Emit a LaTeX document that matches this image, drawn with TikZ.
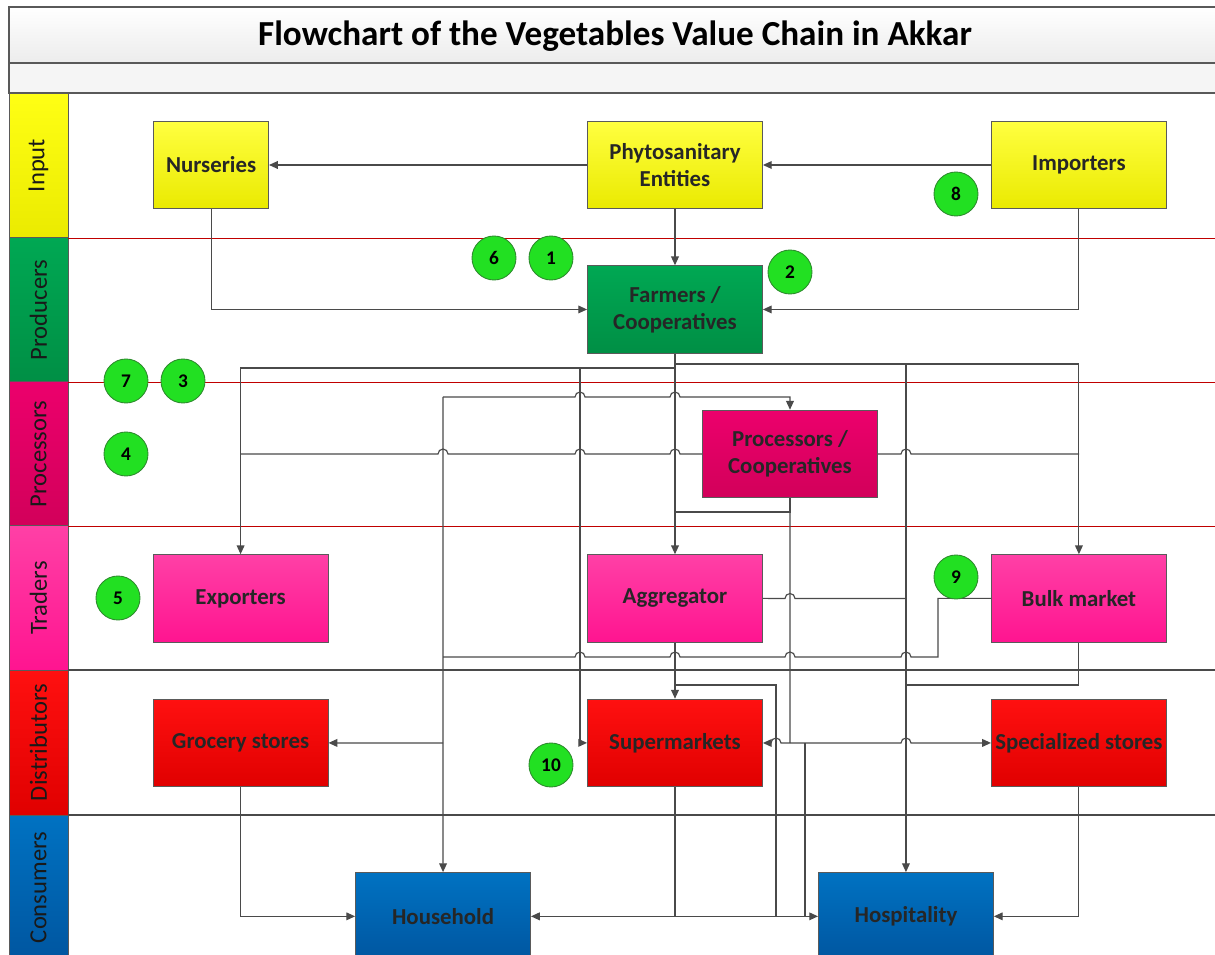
\documentclass[tikz,border=0pt]{standalone}
\usepackage{fontspec}
\setmainfont{Carlito}
\usetikzlibrary{arrows.meta,positioning}

\definecolor{linegray}{HTML}{4A4A4A}
\definecolor{boxedge}{HTML}{5A5A5A}
\definecolor{laneline}{HTML}{C00000}
\definecolor{inputtop}{HTML}{FFFF40}
\definecolor{inputbot}{HTML}{EAEA00}
\definecolor{prodtop}{HTML}{00A853}
\definecolor{prodbot}{HTML}{008F45}
\definecolor{proctop}{HTML}{EC006C}
\definecolor{procbot}{HTML}{D2005A}
\definecolor{tradetop}{HTML}{FF40A6}
\definecolor{tradebot}{HTML}{FF1490}
\definecolor{disttop}{HTML}{FF1010}
\definecolor{distbot}{HTML}{E00000}
\definecolor{constop}{HTML}{0072C2}
\definecolor{consbot}{HTML}{0056A0}
\definecolor{badgefill}{HTML}{22E022}
\definecolor{badgeedge}{HTML}{2E8B2E}

\tikzstyle{flowbox} = [rectangle, minimum width=3.5cm, minimum height=1.75cm, inner xsep=1pt, text centered, align=center, draw=boxedge, line width=0.5pt, font=\bfseries\fontsize{13}{15.5}\selectfont, text=black!85]
\tikzstyle{inputbox} = [flowbox, top color=inputtop, bottom color=inputbot]
\tikzstyle{prodbox} = [flowbox, top color=prodtop, bottom color=prodbot]
\tikzstyle{procbox} = [flowbox, top color=proctop, bottom color=procbot]
\tikzstyle{tradebox} = [flowbox, top color=tradetop, bottom color=tradebot]
\tikzstyle{distbox} = [flowbox, top color=disttop, bottom color=distbot]
\tikzstyle{consbox} = [flowbox, top color=constop, bottom color=consbot]
\tikzstyle{badge} = [circle, minimum size=0.88cm, inner sep=0pt, draw=badgeedge, line width=0.5pt, fill=badgefill, font=\bfseries\fontsize{11}{13}\selectfont]
\tikzstyle{lane} = [rectangle, rotate=90, minimum width=2.9cm, minimum height=1.18cm, draw=boxedge, line width=0.4pt, font=\fontsize{14}{16}\selectfont, text=black!90]
\tikzstyle{link} = [draw=linegray, line width=0.65pt]
\tikzstyle{arrow} = [link, ->, >={Triangle[length=5pt,width=4.4pt]}]
\tikzstyle{twoway} = [arrow, <->]
\tikzstyle{sepred} = [draw=laneline, line width=0.5pt]
\tikzstyle{sepdark} = [draw=linegray, line width=0.7pt]

\newcommand{\hopright}[2]{-- (#1-5,#2) arc[start angle=180,end angle=0,radius=0.1cm]}
\newcommand{\hopleft}[2]{-- (#1+5,#2) arc[start angle=0,end angle=180,radius=0.1cm]}

\begin{document}
\begin{tikzpicture}[node distance=2.89cm, x=0.02cm, y=-0.02cm]
		\useasboundingbox (0,0) rectangle (1215,955);
		\clip (0,0) rectangle (1215,955);
		\fill [white] (0,0) rectangle (1215,955);

		\draw [draw=gray!70!black, line width=0.7pt, top color=white, bottom color=gray!15] (9,7) rectangle (1240,63);
		\draw [draw=gray!70!black, line width=0.7pt, fill=gray!8] (9,63) rectangle (1240,93);
		\node (title) [font=\bfseries\fontsize{20}{24}\selectfont] at (615,36) {Flowchart of the Vegetables Value Chain in Akkar};

		\node (laneinput) [lane, top color=yellow!92, bottom color=yellow!92!black] at (38.5,165.5) {Input};
		\node (laneprod) [lane, top color=prodtop, bottom color=prodbot] at (38.5,310) {Producers};
		\node (laneproc) [lane, top color=proctop, bottom color=procbot] at (38.5,454) {Processors};
		\node (lanetrade) [lane, top color=tradetop, bottom color=tradebot] at (38.5,598) {Traders};
		\node (lanedist) [lane, top color=disttop, bottom color=distbot] at (38.5,742.5) {Distributors};
		\node (lanecons) [lane, top color=constop, bottom color=consbot] at (38.5,887.5) {Consumers};

		\draw [sepred] (68,238) -- (1240,238);
		\draw [sepred] (68,382) -- (1240,382);
		\draw [sepred] (68,526) -- (1240,526);
		\draw [sepdark] (68,670) -- (1240,670);
		\draw [sepdark] (68,815) -- (1240,815);

		\node (phyto) [inputbox] at (675,165) {Phytosanitary\\Entities};
		\node (nurseries) [inputbox, minimum width=2.3cm, left of=phyto, xshift=-6.39cm] {Nurseries};
		\node (importers) [inputbox, right of=phyto, xshift=5.19cm] {Importers};
		\node (farmers) [prodbox, below of=phyto] {Farmers /\\Cooperatives};
		\node (processors) [procbox, below of=farmers, xshift=2.3cm] {Processors /\\Cooperatives};
		\node (aggregator) [tradebox, below of=processors, xshift=-2.3cm] {Aggregator};
		\node (exporters) [tradebox, left of=aggregator, xshift=-5.8cm] {Exporters};
		\node (bulk) [tradebox, right of=aggregator, xshift=5.19cm] {Bulk market};
		\node (supermarkets) [distbox, below of=aggregator] {Supermarkets};
		\node (grocery) [distbox, below of=exporters] {Grocery stores};
		\node (specialized) [distbox, below of=bulk] {Specialized stores};
		\node (household) [consbox, below of=grocery, xshift=4.05cm, yshift=-0.58cm] {Household};
		\node (hospitality) [consbox, below of=supermarkets, xshift=4.62cm, yshift=-0.58cm] {Hospitality};

		\draw [arrow] (phyto) -- (nurseries);
		\draw [arrow] (importers) -- (phyto);
		\draw [arrow] (phyto) -- (farmers);
		\draw [arrow] (nurseries.south) |- (farmers);
		\draw [arrow] (importers.south) |- (farmers);

		\draw [arrow] (farmers) -- (aggregator);
		\draw [arrow] (farmers.south |- 0,368) -| (exporters);
		\draw [arrow] (farmers.south |- 0,364) -| (bulk);
		\draw [arrow] (580,368) |- (supermarkets);
		\draw [arrow] (hospitality |- 0,364) -- (hospitality);

		\draw [arrow] (443,397) \hopright{580}{397} \hopright{675}{397} -| (processors);
		\draw [arrow] (443,397) -- (household);
		\draw [arrow] (443,743) -- (grocery);
		\draw [link] (processors.west) \hopleft{675}{454} \hopleft{580}{454} \hopleft{443}{454} -- (240.5,454);
		\draw [link] (processors.east) \hopright{906}{454} -- (1079,454);
		\draw [link] (processors.south) |- (675,512);
		\draw [link] (processors.south) -- (790,743);
		\draw [arrow] (790,743) \hopleft{776}{743} -- (supermarkets);
		\draw [arrow] (790,743) \hopright{906}{743} -- (specialized);
		\draw [link] (805,743) -- (805,916.5);

		\draw [arrow] (aggregator) -- (supermarkets);
		\draw [link] (aggregator.east) \hopright{790}{598.5} -- (906,598.5);
		\draw [link] (675,685) -| (776,916.5);

		\draw [link] (bulk.west) -| (938,657) \hopleft{906}{657} \hopleft{790}{657} \hopleft{675}{657} \hopleft{580}{657} -- (443,657);
		\draw [link] (bulk.south) |- (906,685);

		\draw [arrow] (grocery.south) |- (household);
		\draw [link] (supermarkets.south) -- (675,916.5);
		\draw [arrow] (specialized.south) |- (hospitality);
		\draw [twoway] (household) -- (hospitality);

		\node (b1) [badge] at (551,258) {1};
		\node (b2) [badge] at (790,272) {2};
		\node (b3) [badge] at (183,381) {3};
		\node (b4) [badge] at (126,454) {4};
		\node (b5) [badge] at (118,598) {5};
		\node (b6) [badge] at (494,258) {6};
		\node (b7) [badge] at (126,381) {7};
		\node (b8) [badge] at (956,194) {8};
		\node (b9) [badge] at (956,577) {9};
		\node (b10) [badge] at (551,765) {10};

	\end{tikzpicture}
\end{document}
